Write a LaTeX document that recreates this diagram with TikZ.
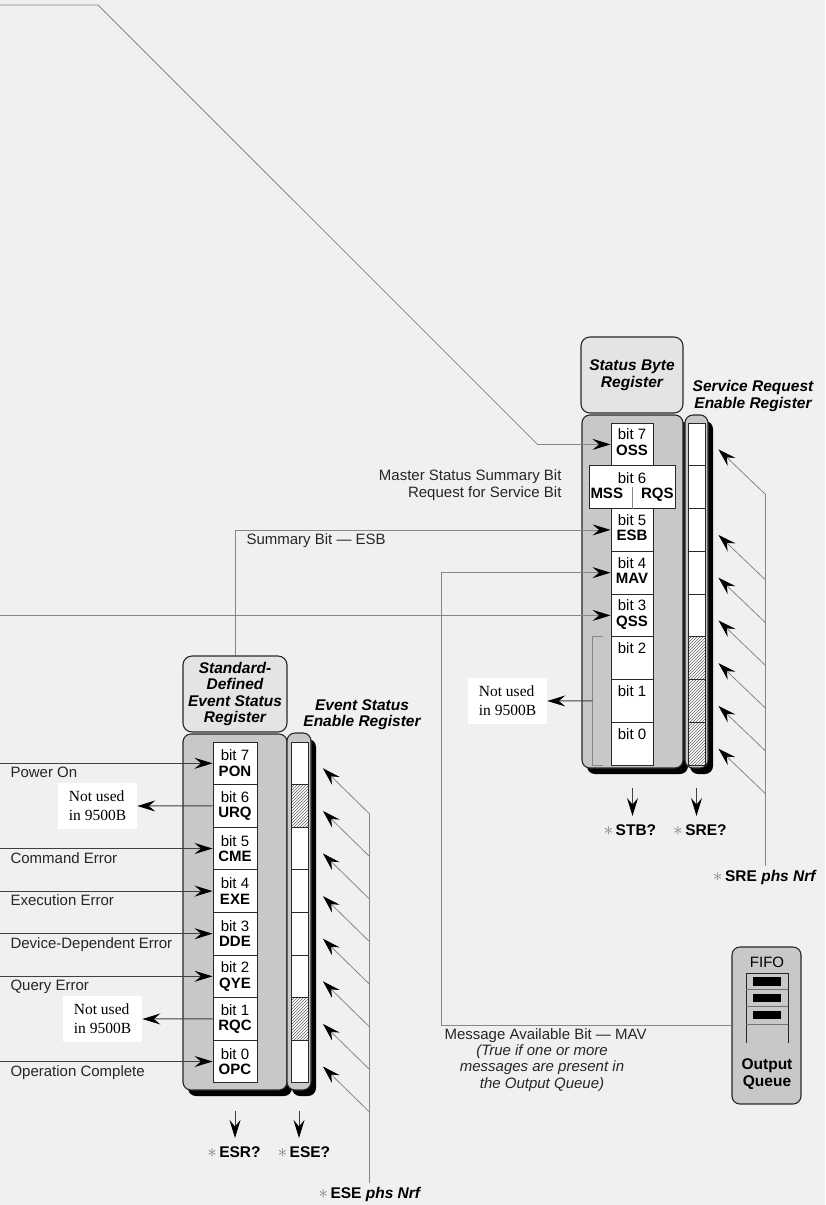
\documentclass[tikz,border=0pt]{standalone}
\usepackage{fontspec}
\setmainfont{Liberation Sans}
\newfontfamily\notefont{Liberation Serif}
\usetikzlibrary{arrows.meta,positioning,calc,patterns,shadows}
\definecolor{regbg}{RGB}{240,240,240}
\definecolor{reghead}{RGB}{228,228,228}
\definecolor{regbody}{RGB}{200,200,200}
\definecolor{regline}{RGB}{40,40,40}
\definecolor{regwire}{RGB}{135,135,135}
\definecolor{regstar}{RGB}{125,125,125}
\tikzset{
  hdr/.style     = {rounded corners=9pt, draw=regline, line width=1.1pt, fill=reghead,
                    align=center, font=\fontsize{15.5}{16.6}\selectfont\bfseries\itshape},
  regbox/.style  = {rounded corners=8pt, draw=regline, line width=1.1pt, fill=regbody},
  dshadow/.style = {drop shadow={shadow xshift=5pt, shadow yshift=-6pt, fill=black, opacity=1}},
  cell/.style    = {draw=regline, line width=0.9pt, fill=white, inner sep=0pt,
                    minimum width=42pt, minimum height=42.75pt, align=center,
                    font=\fontsize{15}{15.5}\selectfont},
  ecell/.style   = {draw=regline, line width=0.9pt, fill=white, inner sep=0pt,
                    minimum width=17pt, minimum height=42.75pt},
  hcell/.style   = {ecell, preaction={fill=white}, pattern=north east lines,
                    pattern color=black!60},
  ttl/.style     = {align=center, font=\fontsize{15.5}{16.6}\selectfont\bfseries\itshape},
  lbl/.style     = {font=\fontsize{15}{17}\selectfont, text=black!85},
  note/.style    = {fill=white, align=left, inner xsep=11pt, inner ysep=5pt,
                    minimum height=46pt, font=\notefont\fontsize{15.5}{19}\selectfont},
  qry/.style     = {font=\fontsize{15.5}{17}\selectfont\bfseries},
  ar/.style      = {-{Stealth[length=18pt, width=11pt, inset=6.5pt, color=black]},
                    line width=1pt, draw=black!75},
  gar/.style     = {ar, line width=0.8pt, draw=regwire},
  wire/.style    = {line width=0.8pt, draw=regwire},
}
\newcommand{\qstar}{{\color{regstar}\scalebox{1.3}{$\ast$}}\,}

\begin{document}
\begin{tikzpicture}[x=1pt, y=-1pt]
  \fill[regbg] (0,0) rectangle (825,1205);
  \useasboundingbox (0,0) rectangle (825,1205);
  \coordinate (leftedge) at (0,0);
  \coordinate (mavx) at (441,0);

  % status byte register and its enable register
  \node[hdr, minimum width=102pt, minimum height=76pt] (sbhead) at (632,375) {Status Byte\\Register};
  \node[regbox, dshadow, minimum width=101pt, minimum height=353pt] (sbbody) at (632.5,591.5) {};
  \node[regbox, dshadow, minimum width=23pt, minimum height=353pt] (srecol) at (696.5,591.5) {};
  \node[ttl] (sretitle) at (753,396) {Service Request\\Enable Register};

  \foreach \b/\nm in {7/OSS,5/ESB,4/MAV,3/QSS,2/,1/,0/}{
    \pgfmathsetmacro\cy{444.4+42.75*(7-\b)}
    \node[cell] (sb\b) at (632,\cy) {bit \b\\\textbf{\nm}\strut};
  }
  \node[cell, minimum width=86pt] (sb6) at (632,487.15) {bit 6\\\textbf{MSS}\hspace{18pt}\textbf{RQS}};
  \draw[wire] (sb6.south) -- ++(0,-22);

  \foreach \b/\st in {7/ecell,6/ecell,5/ecell,4/ecell,3/ecell,2/hcell,1/hcell,0/hcell}{
    \pgfmathsetmacro\cy{444.4+42.75*(7-\b)}
    \node[\st] (sre\b) at (696.5,\cy) {};
  }
  \foreach \b in {7,5,4,3,2,1,0}
    \draw[gar] ($(sre\b.east)+(60,50)$) -- ($(sre\b.east)+(13,5)$);
  \coordinate (sretop) at ($(sre7.east)+(60,50)$);
  \node[qry] (sreset) at (765,877) {\qstar SRE \textit{phs Nrf}};
  \draw[wire] (sretop) -- (sretop |- sreset.north);

  \node[qry] (stbq) at (630,830) {\qstar STB?};
  \node[qry] (sreq) at (700,830) {\qstar SRE?};
  \draw[ar, shorten >=5pt] ($(sbbody.south)+(0,19)$) -- (sbbody.south |- stbq.north);
  \draw[ar, shorten >=5pt] ($(srecol.south)+(0,19)$) -- (srecol.south |- sreq.north);

  \node[lbl, align=right, anchor=east] (msslbl) at (565,485.5) {Master Status Summary Bit\\Request for Service Bit};

  % inputs to the status byte
  \coordinate (osssrc) at (0,5);
  \coordinate (ossbend) at (98,5);
  \draw[gar] (osssrc) -- (ossbend) -- ($(sb7.west)+(-73,0)$) -- (sb7.west);
  \draw[gar] (sb3.west -| leftedge) -- (sb3.west);

  \draw[wire] ($(sb2.north west)+(-8,0)$) -- ++(-10,0) -- ($(sb0.south west)+(-18,0)$) -- ++(10,0);
  \node[note] (nu1) at (507.5,701) {Not used\\in 9500B};
  \draw[ar] ($(sb1.west)+(-18,0)$) -- (nu1.east);

  % output queue
  \node[regbox, minimum width=69pt, minimum height=157pt] (oqbox) at (766.5,1025.5) {};
  \node[font=\fontsize{15}{17}\selectfont] (fifo) at (767,962) {FIFO};
  \draw[regline, line width=0.9pt] (746,1043) -- (746,973) -- (788,973) -- (788,1043);
  \foreach \y in {989.3,1006.7,1024}
    \draw[black!55, line width=0.7pt] (746,\y) -- (788,\y);
  \foreach \y in {977,993.5,1010.8}
    \fill[black] (753,\y) rectangle (781,{\y+8.5});
  \node[qry, align=center] (oqlbl) at (767,1074.5) {Output\\Queue};

  \draw[gar] (oqbox.west) -- (oqbox.west -| mavx) -- (sb4.west -| mavx) -- (sb4.west);
  \node[lbl, anchor=base west] (mavlbl) at ($(oqbox.west -| mavx)+(0,14)$) {Message Available Bit — MAV};
  \node[lbl, align=center, font=\fontsize{15}{16.5}\selectfont\itshape] (mavnote) at (542,1068)
       {(True if one or more\\messages are present in\\the Output Queue)};

  % standard-defined event status register and its enable register
  \node[hdr, minimum width=104pt, minimum height=76pt] (sesrhead) at (235,694) {Standard-\\Defined\\Event Status\\Register};
  \node[regbox, dshadow, minimum width=104pt, minimum height=356pt] (sesrbody) at (235,912) {};
  \node[regbox, dshadow, minimum width=24pt, minimum height=357pt] (esecol) at (299,911.5) {};
  \node[ttl] (esetitle) at (362,714.5) {Event Status\\Enable Register};

  \draw[gar] (sesrhead.north) -- (sesrhead.north |- sb5.west) -- (sb5.west);
  \node[lbl, anchor=base west] (esblbl) at ($(sesrhead.north |- sb5.west)+(8,15)$) {Summary Bit — ESB};

  \foreach \b/\nm in {7/PON,6/URQ,5/CME,4/EXE,3/DDE,2/QYE,1/RQC,0/OPC}{
    \pgfmathsetmacro\cy{763.3+42.6*(7-\b)}
    \node[cell, minimum width=44pt, minimum height=42.6pt] (es\b) at (235,\cy) {bit \b\\\textbf{\nm}};
  }
  \foreach \b/\st in {7/ecell,6/hcell,5/ecell,4/ecell,3/ecell,2/ecell,1/hcell,0/ecell}{
    \pgfmathsetmacro\cy{763.3+42.6*(7-\b)}
    \node[\st, minimum height=42.6pt] (ese\b) at (299.5,\cy) {};
  }

  \foreach \b/\txt in {7/Power On,5/Command Error,4/Execution Error,
                       3/Device-Dependent Error,2/Query Error,0/Operation Complete}{
    \draw[ar] (es\b.west -| leftedge) -- (es\b.west);
    \node[lbl, anchor=base west] (in\b) at ($(es\b.west -| leftedge)+(7,14.5)$) {\txt};
  }
  \node[note] (nu2) at (97.5,806) {Not used\\in 9500B};
  \draw[ar] (es6.west) -- (nu2.east);
  \node[note] (nu3) at (102.5,1019) {Not used\\in 9500B};
  \draw[ar] (es1.west) -- (nu3.east);

  \foreach \b in {7,...,0}
    \draw[gar] ($(ese\b.east)+(60.5,50)$) -- ($(ese\b.east)+(14.5,5)$);
  \coordinate (esetop) at ($(ese7.east)+(60.5,50)$);
  \node[qry] (eseset) at (370,1194) {\qstar ESE \textit{phs Nrf}};
  \draw[wire] (esetop) -- (esetop |- eseset.north);

  \node[qry] (esrq) at (234,1152) {\qstar ESR?};
  \node[qry] (eseq) at (304,1152) {\qstar ESE?};
  \draw[ar, shorten >=5pt] ($(sesrbody.south)+(0,20)$) -- (sesrbody.south |- esrq.north);
  \draw[ar, shorten >=5pt] ($(esecol.south)+(0,20)$) -- (esecol.south |- eseq.north);
\end{tikzpicture}
\end{document}
